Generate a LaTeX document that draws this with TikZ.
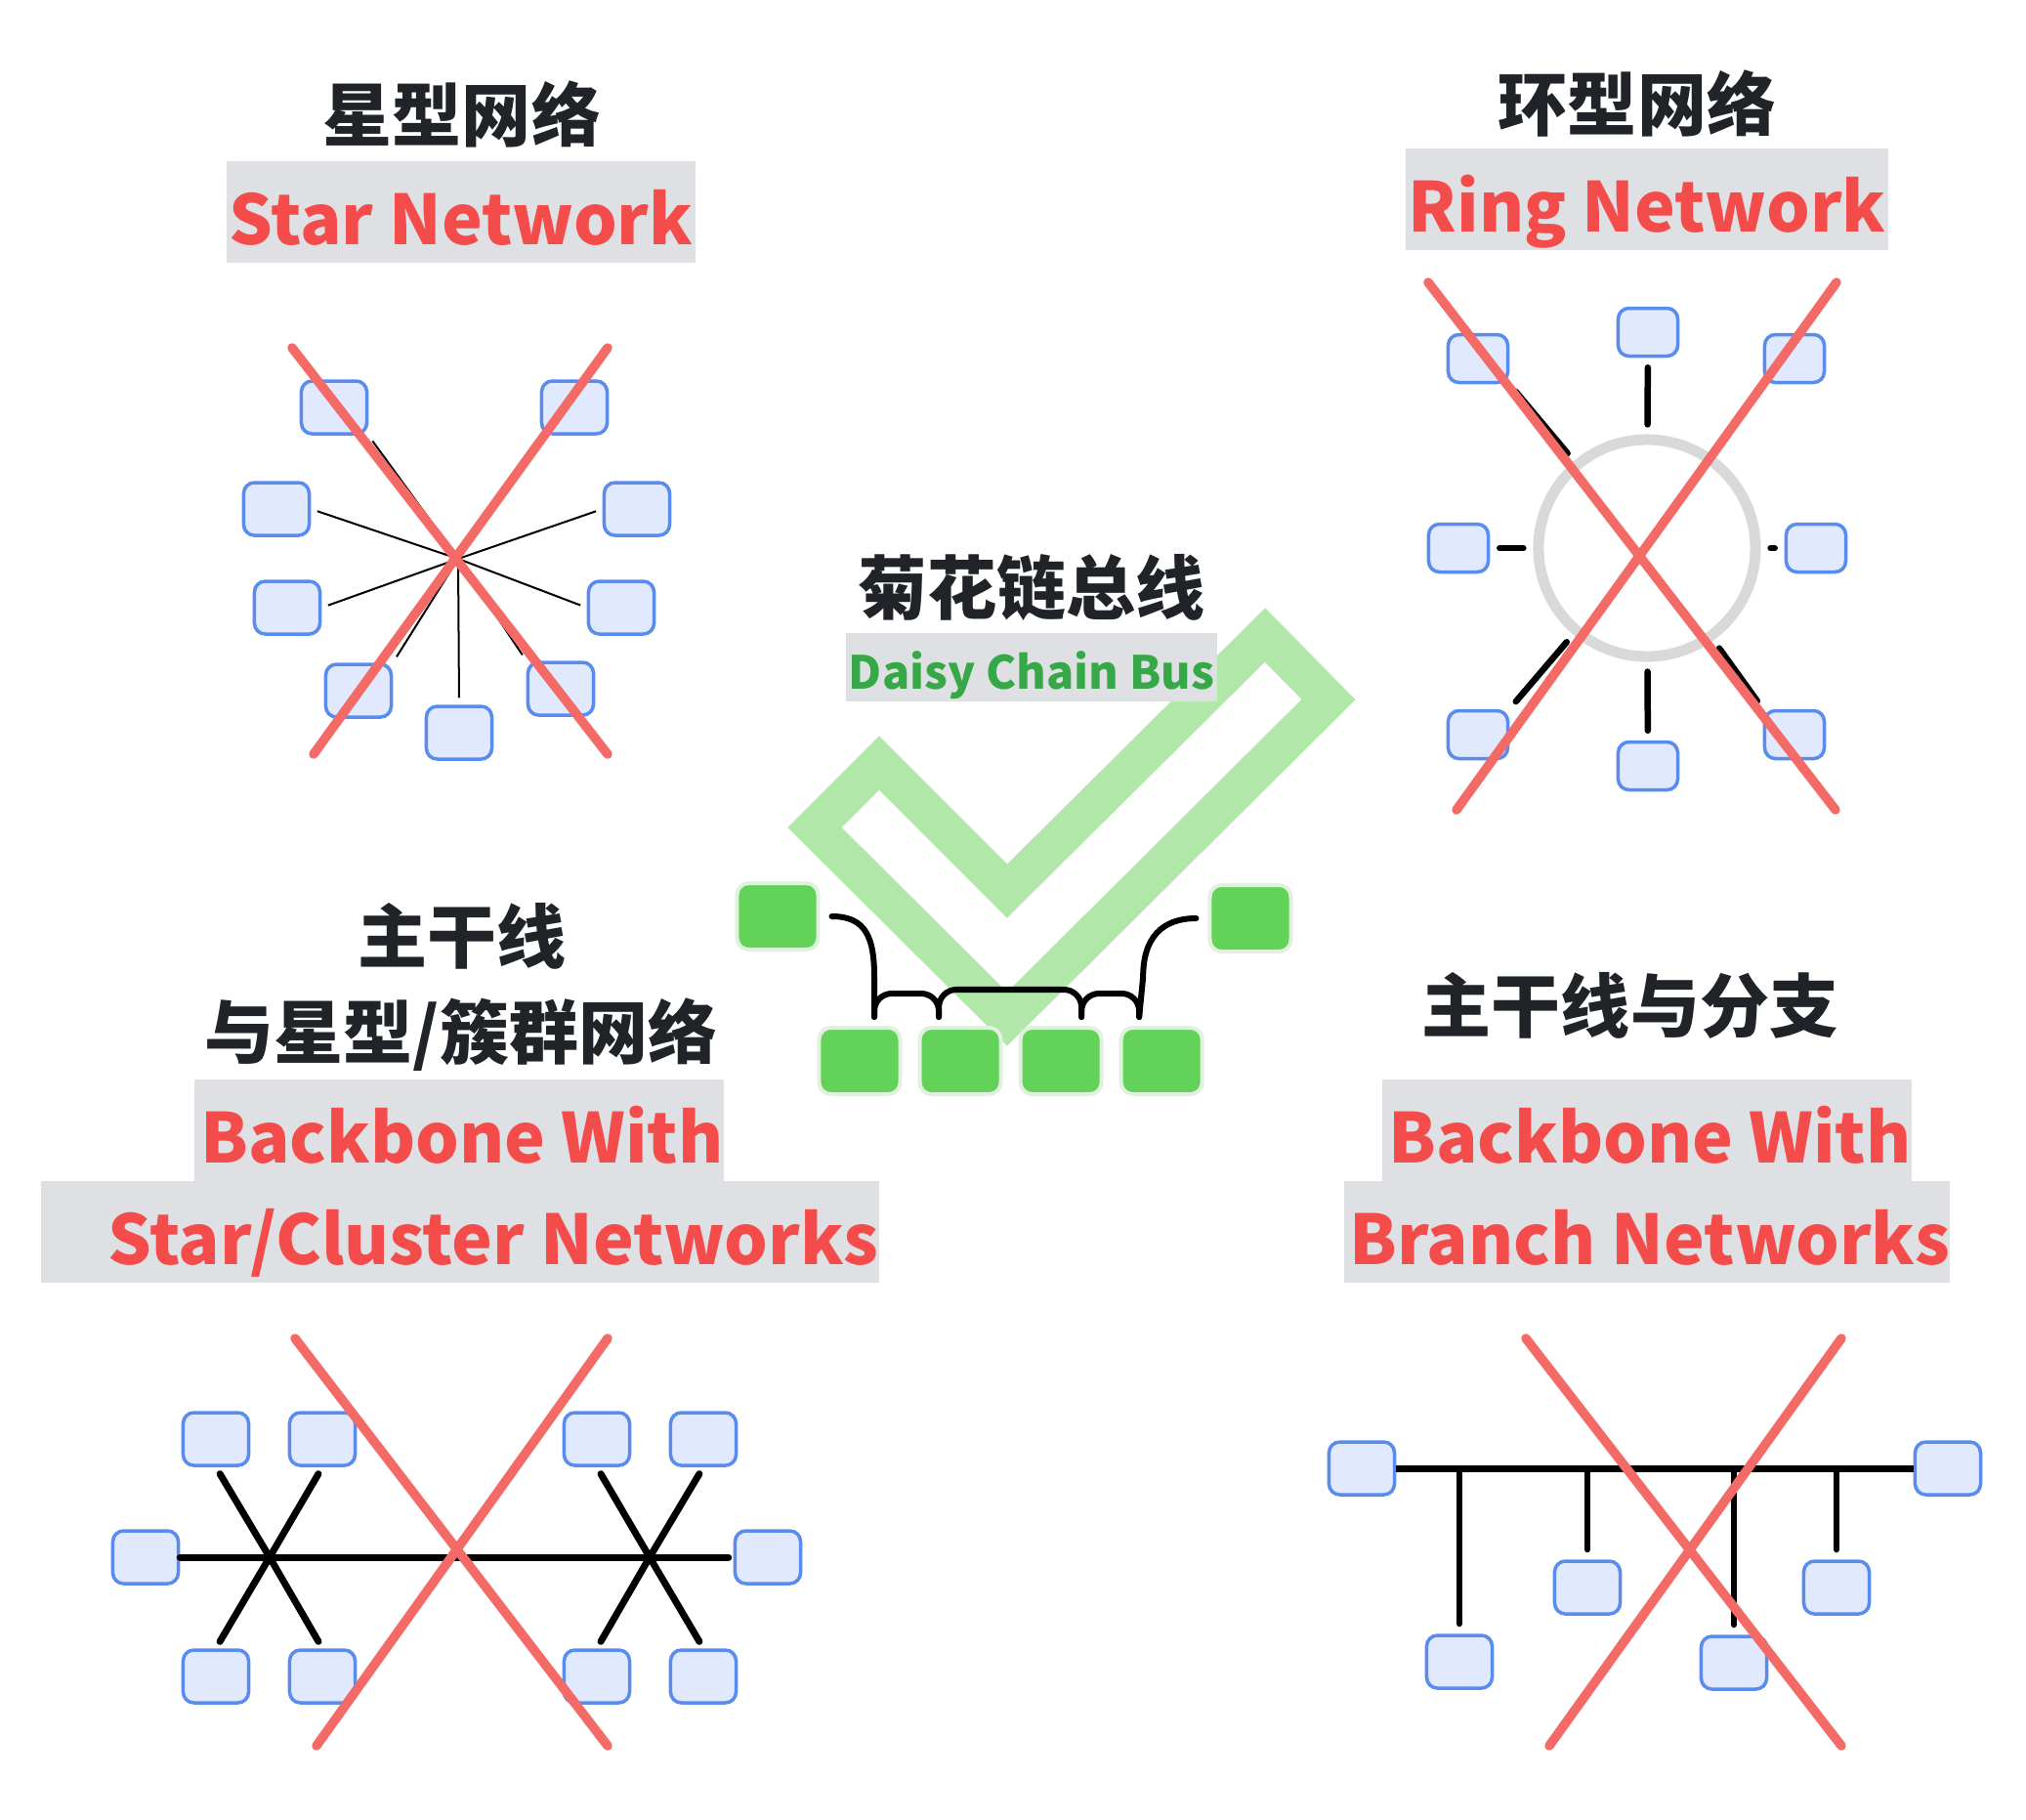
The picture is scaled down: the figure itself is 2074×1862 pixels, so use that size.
\documentclass[tikz,border=0pt]{standalone}
\usepackage{fontspec}
\usetikzlibrary{positioning, calc}
\newfontfamily\cjk{Noto Sans CJK SC}
\definecolor{titleink}{HTML}{202327}
\definecolor{labelred}{HTML}{F44B4B}
\definecolor{labelgrey}{HTML}{DFE0E3}
\definecolor{busgreen}{HTML}{36A847}
\definecolor{nodefill}{HTML}{E0E9FD}
\definecolor{nodeedge}{HTML}{5A8CF0}
\definecolor{crossred}{HTML}{F36A66}
\definecolor{ringgrey}{HTML}{D9D9D9}
\definecolor{checkgreen}{HTML}{B1E7A9}
\definecolor{tilegreen}{HTML}{62D259}
\definecolor{tileedge}{HTML}{E2F1DF}

\begin{document}
\begin{tikzpicture}[x=0.01cm, y=-0.01cm,
    title/.style={font=\cjk\bfseries\fontsize{20.2pt}{24pt}\selectfont, text=titleink, inner sep=0pt},
    enlabel/.style={fill=labelgrey, text=labelred, font=\cjk\bfseries\fontsize{20pt}{24pt}\selectfont, inner xsep=0.03cm, inner ysep=0pt, text height=0.85cm, text depth=0.19cm},
    netbox/.style={draw=nodeedge, fill=nodefill, line width=0.35mm, rounded corners=1.1mm, minimum width=0.67cm, minimum height=0.54cm, inner sep=0pt},
    ringbox/.style={netbox, minimum width=0.61cm, minimum height=0.49cm},
    cross/.style={crossred, line width=0.95mm, line cap=round},
    thinlink/.style={black, line width=0.2mm, shorten >=0.7mm},
    ringlink/.style={black, line width=0.65mm, line cap=round, shorten <=1mm, shorten >=1mm},
    bone/.style={black, line width=0.7mm, line cap=round},
    tile/.style={fill=tilegreen, draw=tileedge, line width=0.4mm, rounded corners=1.2mm, minimum width=0.83cm, minimum height=0.68cm, inner sep=0pt},
    wire/.style={black, line width=0.6mm, line cap=round, line join=round}]
    \useasboundingbox (0, 0) rectangle (2074, 1862);

    \node[title] (startitle) at (473, 117) {星型网络};
    \node[enlabel] (starlabel) at (472, 217) {Star Network};
    \coordinate (hub) at (469, 572);
    \node[netbox] (s1) at (342, 417) {};
    \node[netbox] (s2) at (588, 417) {};
    \node[netbox] (s3) at (283, 521) {};
    \node[netbox] (s4) at (652, 521) {};
    \node[netbox] (s5) at (294, 622) {};
    \node[netbox] (s6) at (636, 622) {};
    \node[netbox] (s7) at (367, 707) {};
    \node[netbox] (s8) at (470, 750) {};
    \node[netbox] (s9) at (574, 705) {};
    \draw[thinlink] (hub) -- (s1.south east);
    \draw[thinlink] (hub) -- (s2.south west);
    \draw[thinlink] (hub) -- (s3.east);
    \draw[thinlink] (hub) -- (s4.west);
    \draw[thinlink] (hub) -- (s5.east);
    \draw[thinlink] (hub) -- (s6.west);
    \draw[thinlink] (hub) -- (s7.north east);
    \draw[thinlink] (hub) -- (s8.north);
    \draw[thinlink] (hub) -- (s9.north west);
    \draw[cross] (299, 356) -- (622, 772) (622, 356) -- (321, 772);

    \node[title] (ringtitle) at (1676, 106) {环型网络};
    \node[enlabel] (ringlabel) at (1686, 204) {Ring Network};
    \node[circle, draw=ringgrey, line width=1.1mm, minimum size=2.22cm, inner sep=0pt] (ring) at (1686, 561) {};
    \node[ringbox] (r1) at (1687, 340) {};
    \node[ringbox] (r2) at (1513, 367) {};
    \node[ringbox] (r3) at (1837, 367) {};
    \node[ringbox] (r4) at (1493, 561) {};
    \node[ringbox] (r5) at (1859, 561) {};
    \node[ringbox] (r6) at (1513, 752) {};
    \node[ringbox] (r7) at (1837, 752) {};
    \node[ringbox] (r8) at (1687, 784) {};
    \draw[ringlink] (ring) -- (r1);
    \draw[ringlink] (ring) -- (r2.south east);
    \draw[ringlink] (ring) -- (r3.south west);
    \draw[ringlink] (ring) -- (r4);
    \draw[ringlink] (ring) -- (r5);
    \draw[ringlink] (ring) -- (r6.north east);
    \draw[ringlink] (ring) -- (r7.north west);
    \draw[ringlink] (ring) -- (r8);
    \draw[cross] (1462, 289) -- (1879, 829) (1880, 289) -- (1491, 829);

    \draw[checkgreen, line width=0.39cm, miter limit=4] (834, 847) -- (900, 781) -- (1031, 912) -- (1295, 650) -- (1360, 716) -- (1031, 1043) -- cycle;
    \node[title] (daisytitle) at (1056, 601) {菊花链总线};
    \node[enlabel, text=busgreen, font=\cjk\bfseries\fontsize{13.3pt}{16pt}\selectfont, text height=0.57cm, text depth=0.13cm] (daisylabel) at (1056, 683) {Daisy Chain Bus};
    \node[tile] (lt) at (796, 938) {};
    \node[tile] (rt) at (1280, 940) {};
    \node[tile] (t1) at (880, 1086) {};
    \node[tile, right=0.16cm of t1] (t2) {};
    \node[tile, right=0.16cm of t2] (t3) {};
    \node[tile, right=0.16cm of t3] (t4) {};
    \draw[wire] ($(lt.east)+(12, 0)$) .. controls +(35, 0) and +(0, -40) .. ($(t1.north)+(15, -50)$) -- ($(t1.north)+(15, -9)$);
    \draw[wire, rounded corners=1.8mm] ($(t1.north)+(15, -9)$) -- ++(0, -24) -| ($(t2.north)+(-22, -9)$);
    \draw[wire, rounded corners=1.8mm] ($(t2.north)+(-22, -9)$) -- ++(0, -28) -| ($(t3.north)+(21, -9)$);
    \draw[wire, rounded corners=1.8mm] ($(t3.north)+(21, -9)$) -- ++(0, -24) -| ($(t4.north)+(-23, -9)$);
    \draw[wire] ($(t4.north)+(-23, -9)$) -- ($(t4.north)+(-19, -50)$) .. controls +(0, -40) and +(-35, 0) .. ($(rt.west)+(-12, 0)$);

    \node[title] (bbtitleA) at (473, 958) {主干线};
    \node[title] (bbtitleB) at (472, 1059) {与星型/簇群网络};
    \node[enlabel, inner xsep=0pt] (bblabelA) at (470, 1157) {\hspace{0.06cm}Backbone With\hspace{0.19cm}};
    \node[enlabel, inner xsep=0pt] (bblabelB) at (471, 1261) {\hspace{0.68cm}Star/Cluster Networks\hspace{0.01cm}};
    \coordinate (hubA) at (276, 1594);
    \coordinate (hubB) at (665, 1594);
    \node[netbox] (c0) at (149, 1594) {};
    \node[netbox] (c1) at (221, 1473) {};
    \node[netbox] (c2) at (330, 1473) {};
    \node[netbox] (c3) at (221, 1716) {};
    \node[netbox] (c4) at (330, 1716) {};
    \node[netbox] (c5) at (611, 1473) {};
    \node[netbox] (c6) at (720, 1473) {};
    \node[netbox] (c7) at (611, 1716) {};
    \node[netbox] (c8) at (720, 1716) {};
    \node[netbox] (c9) at (786, 1594) {};
    \draw[bone, shorten >=0.5mm] (c0.east) -- (c9.west);
    \draw[bone, shorten >=0.8mm] (hubA) -- (c1.south);
    \draw[bone, shorten >=0.8mm] (hubA) -- (c2.south);
    \draw[bone, shorten >=0.8mm] (hubA) -- (c3.north);
    \draw[bone, shorten >=0.8mm] (hubA) -- (c4.north);
    \draw[bone, shorten >=0.8mm] (hubB) -- (c5.south);
    \draw[bone, shorten >=0.8mm] (hubB) -- (c6.south);
    \draw[bone, shorten >=0.8mm] (hubB) -- (c7.north);
    \draw[bone, shorten >=0.8mm] (hubB) -- (c8.north);
    \draw[cross] (302, 1370) -- (622, 1787) (622, 1370) -- (324, 1787);

    \node[title] (brtitle) at (1669, 1029) {主干线与分支};
    \node[enlabel, inner xsep=0pt] (brlabelA) at (1686, 1157) {\hspace{0.06cm}Backbone With\hspace{0.21cm}};
    \node[enlabel, inner xsep=0pt] (brlabelB) at (1686, 1261) {\hspace{0.06cm}Branch Networks\hspace{0.01cm}};
    \node[netbox] (d0) at (1394, 1503) {};
    \node[netbox] (d9) at (1994, 1503) {};
    \node[netbox] (d1) at (1494, 1701) {};
    \node[netbox] (d2) at (1625, 1625) {};
    \node[netbox] (d3) at (1775, 1702) {};
    \node[netbox] (d4) at (1880, 1625) {};
    \draw[bone, line cap=butt] (d0.east) -- (d9.west);
    \draw[bone, line width=0.6mm, shorten >=1mm] (d1.north |- d0.east) -- (d1.north);
    \draw[bone, line width=0.6mm, shorten >=1mm] (d2.north |- d0.east) -- (d2.north);
    \draw[bone, line width=0.6mm, shorten >=1mm] (d3.north |- d0.east) -- (d3.north);
    \draw[bone, line width=0.6mm, shorten >=1mm] (d4.north |- d0.east) -- (d4.north);
    \draw[cross] (1562, 1370) -- (1885, 1787) (1885, 1370) -- (1586, 1787);
\end{tikzpicture}
\end{document}
